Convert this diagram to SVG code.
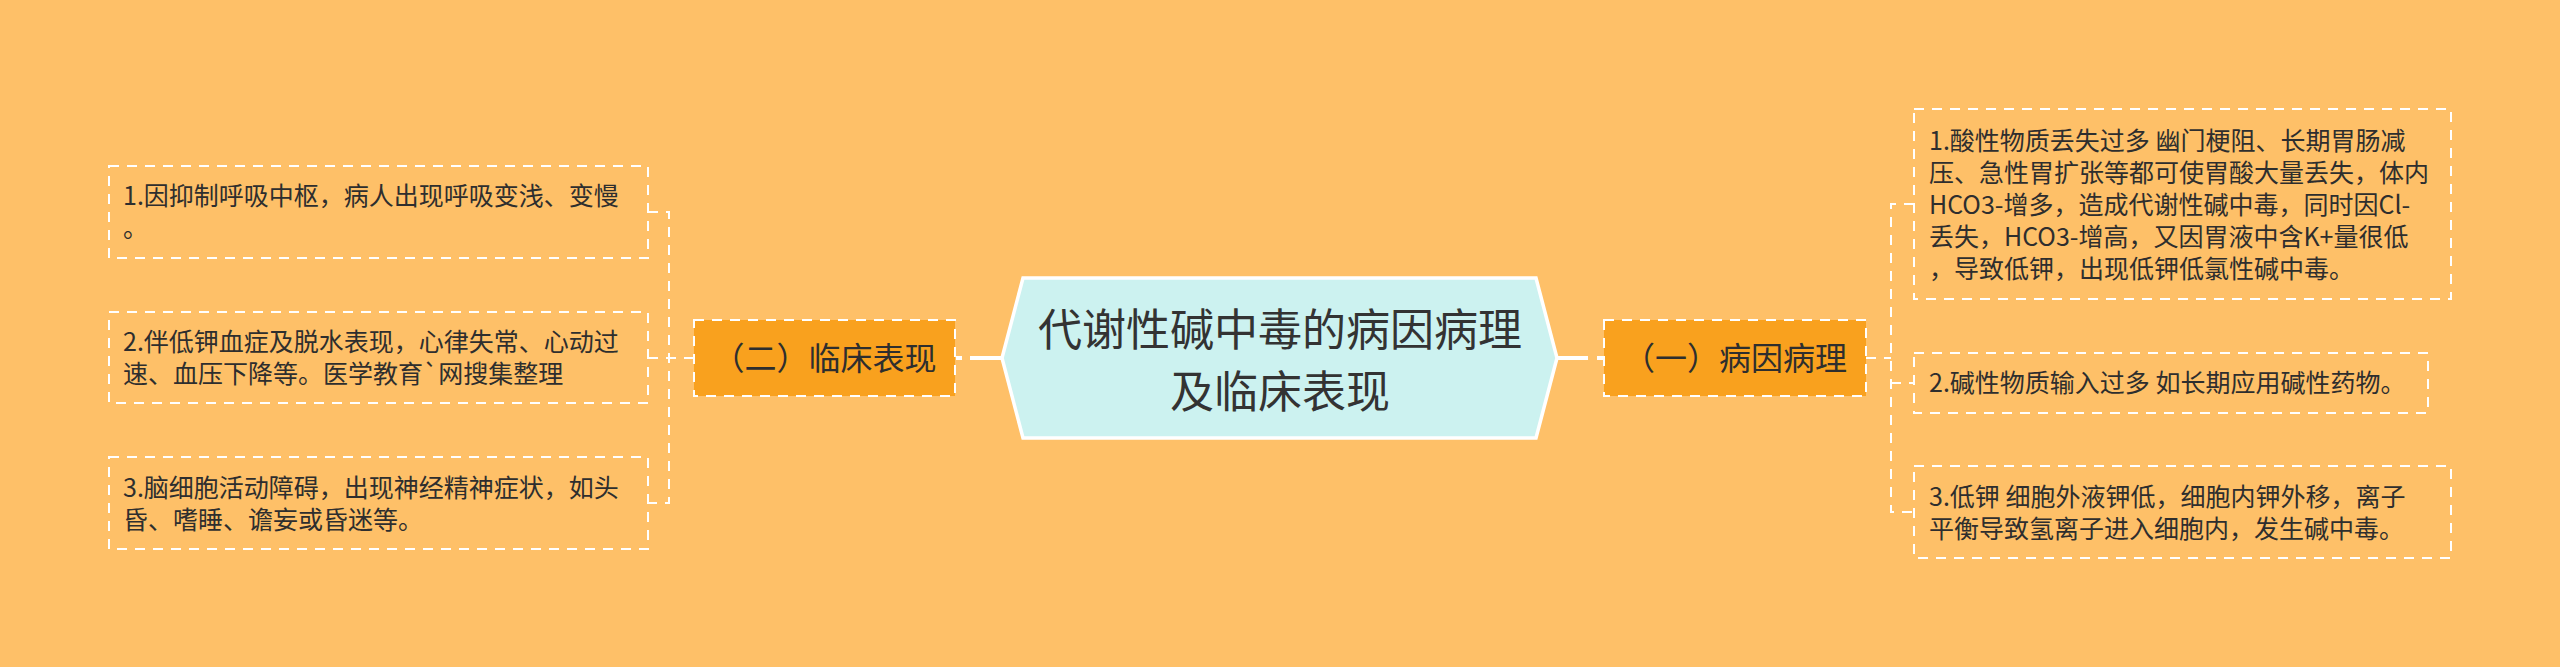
<svg xmlns="http://www.w3.org/2000/svg" width="2560" height="667" viewBox="0 0 2560 667">
<style>
.bg{fill:#FEC068}
.leaf{fill:none;stroke:#FFFFFF;stroke-width:2;stroke-dasharray:10 8}
.sub{fill:#F9A11E;stroke:#FFFFFF;stroke-width:2;stroke-dasharray:10 8}
.root{fill:#CCF2F0;stroke:#FFFFFF;stroke-width:3.5}
.dash{fill:none;stroke:#FFFFFF;stroke-width:2;stroke-dasharray:10 8}
.solid{fill:none;stroke:#FFFFFF;stroke-width:4}
text{font-family:"Noto Sans CJK SC","Noto Sans",sans-serif;fill:#2E2E2E}
.lt{font-size:25px}
.st{font-size:32px;text-anchor:middle}
.rt{font-size:44px;text-anchor:middle;fill:#333333}
</style>
<rect class="bg" x="0" y="0" width="2560" height="667"/>
<g id="connectors">
<path class="dash" d="M648,212 H669 V503 H648 M648,358 H694"/>
<path class="solid" d="M956,358 H962 M970,358 H1002"/>
<path class="solid" d="M1557,358 H1588 M1597,358 H1603"/>
<path class="dash" d="M1866,358 H1891 M1914,204 H1891 V512 H1914 M1891,383 H1914"/>
</g>
<g id="root">
<polygon class="root" points="1002,358 1023,278 1536,278 1557,358 1536,438 1023,438"/>
<text class="rt" x="1280" y="346">代谢性碱中毒的病因病理</text>
<text class="rt" x="1280" y="408">及临床表现</text>
</g>
<g id="n-clinical">
<rect class="sub" x="694" y="320" width="261" height="76"/>
<text class="st" x="824.5" y="370">（二）临床表现</text>
</g>
<g id="n-cause">
<rect class="sub" x="1604" y="320" width="262" height="76"/>
<text class="st" x="1735" y="370">（一）病因病理</text>
</g>
<g id="l1">
<rect class="leaf" x="109" y="166" width="539" height="92"/>
<text class="lt" x="123" y="205">1.因抑制呼吸中枢，病人出现呼吸变浅、变慢</text>
<text class="lt" x="123" y="237">。</text>
</g>
<g id="l2">
<rect class="leaf" x="109" y="312" width="539" height="91"/>
<text class="lt" x="123" y="351">2.伴低钾血症及脱水表现，心律失常、心动过</text>
<text class="lt" x="123" y="383">速、血压下降等。医学教育`网搜集整理</text>
</g>
<g id="l3">
<rect class="leaf" x="109" y="457" width="539" height="92"/>
<text class="lt" x="123" y="497">3.脑细胞活动障碍，出现神经精神症状，如头</text>
<text class="lt" x="123" y="529">昏、嗜睡、谵妄或昏迷等。</text>
</g>
<g id="r1">
<rect class="leaf" x="1914" y="109" width="537" height="190"/>
<text class="lt" x="1929" y="150">1.酸性物质丢失过多 幽门梗阻、长期胃肠减</text>
<text class="lt" x="1929" y="182">压、急性胃扩张等都可使胃酸大量丢失，体内</text>
<text class="lt" x="1929" y="214">HCO3-增多，造成代谢性碱中毒，同时因Cl-</text>
<text class="lt" x="1929" y="246">丢失，HCO3-增高，又因胃液中含K+量很低</text>
<text class="lt" x="1929" y="278">，导致低钾，出现低钾低氯性碱中毒。</text>
</g>
<g id="r2">
<rect class="leaf" x="1914" y="353" width="514" height="60"/>
<text class="lt" x="1929" y="392">2.碱性物质输入过多 如长期应用碱性药物。</text>
</g>
<g id="r3">
<rect class="leaf" x="1914" y="466" width="537" height="92"/>
<text class="lt" x="1929" y="506">3.低钾 细胞外液钾低，细胞内钾外移，离子</text>
<text class="lt" x="1929" y="538">平衡导致氢离子进入细胞内，发生碱中毒。</text>
</g>
</svg>
